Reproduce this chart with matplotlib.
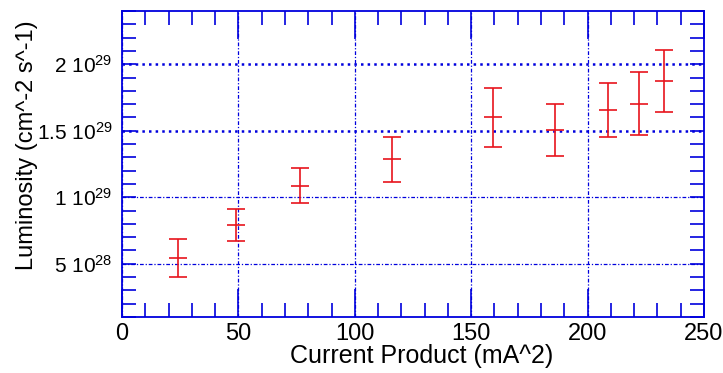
import numpy as np
import matplotlib
matplotlib.use("Agg")
import matplotlib.pyplot as plt
from matplotlib.ticker import MultipleLocator, FixedLocator

plt.rcParams['font.family'] = ['Liberation Sans', 'DejaVu Sans']
plt.rcParams['mathtext.fontset'] = 'custom'
plt.rcParams['mathtext.rm'] = 'Liberation Sans'
plt.rcParams['mathtext.default'] = 'regular'

# luminosity vs current product
current = [24.1, 49.0, 76.5, 116.1, 159.4, 186.0, 208.8, 222.1, 232.9]
lumi = [5.45e28, 7.94e28, 1.087e29, 1.285e29, 1.60e29, 1.505e29, 1.656e29, 1.703e29, 1.877e29]
lumi_err = [1.45e28, 1.2e28, 1.3e28, 1.7e28, 2.25e28, 1.97e28, 2.05e28, 2.35e28, 2.33e28]

ytick_vals = [5e28, 1e29, 1.5e29, 2e29]
ytick_labels = ['5 10$^{28}$', '1 10$^{29}$', '1.5 10$^{29}$', '2 10$^{29}$']

fig = plt.figure(figsize=(7.23, 3.73), dpi=100)
ax = fig.add_axes([122 / 723, (373 - 317) / 373, (704 - 122) / 723, (317 - 11) / 373])

ax.errorbar(current, lumi, yerr=lumi_err, fmt='_', color='#e8141c', ecolor='#e8141c',
            markersize=13, markeredgewidth=1.2, elinewidth=1.2, capsize=6.5, capthick=1.2)

ax.set_xlim(0, 250)
ax.set_ylim(1e28, 2.4e29)
ax.xaxis.set_major_locator(MultipleLocator(50))
ax.xaxis.set_minor_locator(MultipleLocator(10))
ax.yaxis.set_major_locator(FixedLocator(ytick_vals))
ax.yaxis.set_minor_locator(MultipleLocator(1e28))
ax.set_yticklabels(ytick_labels)

blue = '#0000dd'
for s in ax.spines.values():
    s.set_color(blue)
    s.set_linewidth(1.3)
ax.tick_params(which='both', direction='in', top=True, right=True, color=blue, width=1.2)
ax.tick_params(axis='x', which='major', length=20, pad=4, labelsize=17)
ax.tick_params(axis='x', which='minor', length=10)
ax.tick_params(axis='y', which='both', length=10, pad=7, labelsize=15)

ax.grid(True, which='major', color=blue, linestyle='-.', linewidth=0.9,
        dashes=(3, 1.5, 1, 1.5))
for i, gl in enumerate(ax.get_ygridlines()):
    if ytick_vals[i] >= 1.5e29:
        gl.set_linewidth(1.8)
        gl.set_linestyle(':')

ax.set_xlabel('Current Product (mA^2)', fontsize=18)
ax.xaxis.set_label_coords((422 - 122) / 582, (317 - 344) / 306)
ax.set_ylabel('Luminosity (cm^-2 s^-1)', fontsize=17)
ax.yaxis.set_label_coords((38 - 122) / 582, (317 - 145) / 306)

fig.savefig('out.png', dpi=100)
